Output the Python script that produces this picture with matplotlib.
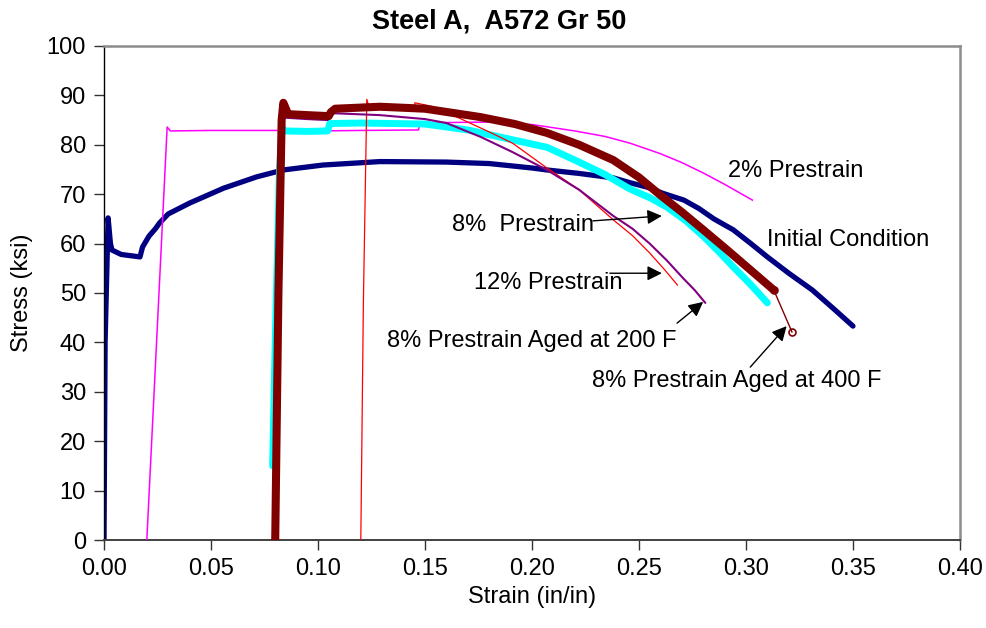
import matplotlib
matplotlib.use("Agg")
import matplotlib.pyplot as plt
import numpy as np

plt.rcParams['font.family'] = ['Liberation Sans', 'DejaVu Sans']

# stress-strain traces, strain in in/in, stress in ksi
init_x = [0.0, 0.0005, 0.0019, 0.0030, 0.0037, 0.008, 0.0168, 0.018, 0.021, 0.024, 0.026,
          0.030, 0.040, 0.0558, 0.0713, 0.0837, 0.1023, 0.129, 0.16, 0.18, 0.20, 0.207,
          0.222, 0.238, 0.246, 0.254, 0.261, 0.271, 0.278, 0.285, 0.294, 0.302, 0.310,
          0.320, 0.331, 0.341, 0.350]
init_y = [0, 40, 65.2, 60, 58.7, 57.8, 57.3, 59.3, 61.5, 63, 64.2,
          66, 68.2, 71.2, 73.5, 74.9, 75.9, 76.6, 76.5, 76.2, 75.3, 74.9,
          74.2, 73.3, 72.3, 71.4, 70.2, 68.8, 67.1, 65.0, 62.8, 60.1, 57.3,
          54.0, 50.6, 46.8, 43.3]

pre2_x = [0.020, 0.0295, 0.0310, 0.05, 0.08, 0.10, 0.12, 0.147, 0.1475, 0.16, 0.18,
          0.20, 0.22, 0.234, 0.246, 0.26, 0.27, 0.28, 0.29, 0.303]
pre2_y = [0, 83.6, 82.8, 82.9, 82.9, 82.8, 82.9, 83.0, 84.4, 84.5, 84.6,
          84.1, 82.8, 81.7, 80.3, 78.2, 76.4, 74.3, 72.0, 68.8]

pre8_x = [0.0788, 0.0800, 0.0820, 0.0832, 0.0845, 0.095, 0.1045, 0.1055, 0.12, 0.15,
          0.17, 0.191, 0.207, 0.222, 0.234, 0.246, 0.255, 0.263, 0.272, 0.280, 0.287,
          0.294, 0.302, 0.310]
pre8_y = [15, 40, 75, 83.5, 82.8, 82.7, 82.8, 84.3, 84.4, 84.2,
          83.0, 81.0, 79.5, 76.5, 74.0, 71.0, 69.3, 67.4, 64.6, 61.5, 58.5,
          55.3, 51.8, 48.0]

pre12_x = [0.1200, 0.1212, 0.1228, 0.1236, 0.130, 0.140, 0.1450, 0.1453, 0.154, 0.166,
           0.180, 0.191, 0.207, 0.222, 0.238, 0.247, 0.255, 0.262, 0.268]
pre12_y = [0, 48, 89.2, 88.0, 87.7, 87.6, 87.6, 88.5, 87.7, 85.4,
           82.6, 80.3, 75.3, 70.9, 64.8, 61.6, 58.1, 54.7, 51.6]

aged200_x = [0.0800, 0.0825, 0.0840, 0.0950, 0.1045, 0.1065, 0.129, 0.150, 0.160, 0.176,
             0.191, 0.207, 0.222, 0.238, 0.247, 0.255, 0.263, 0.2706, 0.276, 0.281]
aged200_y = [0, 80, 85.5, 85.2, 85.0, 86.4, 86.0, 85.2, 84.4, 81.6,
             78.5, 74.9, 70.9, 65.6, 63.0, 60.0, 56.6, 53.0, 50.6, 48.0]

aged400_x = [0.0800, 0.0815, 0.0830, 0.0838, 0.0848, 0.0860, 0.095, 0.1050, 0.1060, 0.1080,
             0.129, 0.150, 0.176, 0.192, 0.207, 0.222, 0.238, 0.250, 0.260, 0.270, 0.280,
             0.291, 0.302, 0.313, 0.3215]
aged400_y = [0, 50, 85, 88.5, 87.5, 86.2, 86.0, 85.8, 86.6, 87.3,
             87.7, 87.3, 85.6, 84.2, 82.4, 80.0, 76.9, 73.4, 69.8, 66.4, 62.8,
             58.8, 54.7, 50.6, 42.1]

fig = plt.figure(figsize=(9.87, 6.28), dpi=100)
ax = fig.add_axes([0.1054, 0.1401, 0.8672, 0.7867])

rnd = dict(solid_capstyle='round', solid_joinstyle='round')
ax.plot(init_x, init_y, color='#000080', lw=3.8, zorder=2, **rnd)
ax.plot(pre2_x, pre2_y, color='#ff00ff', lw=1.1, zorder=3)
ax.plot(pre8_x, pre8_y, color='#00ffff', lw=5.0, zorder=4, **rnd)
ax.plot(pre12_x, pre12_y, color='#ff0000', lw=0.9, zorder=5)
ax.plot(aged200_x, aged200_y, color='#800080', lw=1.5, zorder=6, **rnd)
# 400 F trace: heavy body, thin tail to the last reading
ax.plot(aged400_x[:-1], aged400_y[:-1], color='#800000', lw=5.8, zorder=7, **rnd)
ax.plot(aged400_x[-2:], aged400_y[-2:], color='#800000', lw=1.0, marker='o', ms=5,
        mfc='none', mec='#800000', mew=1.2, zorder=8)

lbl = dict(fontsize=17, ha='left', va='center')
ax.text(0.2916, 74.7, "2% Prestrain", **lbl)
ax.text(0.3098, 60.7, "Initial Condition", **lbl)
ax.text(0.1626, 63.8, "8%  Prestrain", **lbl)
ax.text(0.1729, 52.0, "12% Prestrain", **lbl)
ax.text(0.1322, 40.3, "8% Prestrain Aged at 200 F", **lbl)
ax.text(0.2280, 32.2, "8% Prestrain Aged at 400 F", **lbl)

arw = dict(arrowstyle='-|>', color='black', lw=1.0, mutation_scale=22, shrinkA=0, shrinkB=0)
ax.annotate("", xy=(0.2607, 65.6), xytext=(0.2285, 64.6), arrowprops=arw, zorder=9)
ax.annotate("", xy=(0.2607, 54.0), xytext=(0.2364, 54.0), arrowprops=arw, zorder=9)
ax.annotate("", xy=(0.2800, 48.2), xytext=(0.2678, 43.9), arrowprops=arw, zorder=9)
ax.annotate("", xy=(0.3190, 43.3), xytext=(0.3020, 35.0), arrowprops=arw, zorder=9)

ax.set_xlim(0, 0.40)
ax.set_ylim(0, 100)
ax.set_xticks(np.arange(0, 0.401, 0.05))
ax.set_xticklabels(["%.2f" % v for v in np.arange(0, 0.401, 0.05)])
ax.set_yticks(np.arange(0, 101, 10))
ax.tick_params(axis='both', direction='out', length=7, width=1, color='#333333',
               labelsize=17, pad=6)

for s in ['top', 'right']:
    ax.spines[s].set_color('#8c8c8c')
    ax.spines[s].set_linewidth(1.8)
ax.spines['left'].set_color('black')
ax.spines['bottom'].set_color('#404040')
ax.spines['left'].set_linewidth(1.0)
ax.spines['bottom'].set_linewidth(1.4)

ax.set_xlabel("Strain (in/in)", fontsize=17, labelpad=4)
ax.set_ylabel("Stress (ksi)", fontsize=17, labelpad=10)
fig.text(0.506, 0.966, "Steel A,  A572 Gr 50", fontsize=19.5, fontweight='bold',
         ha='center', va='center')

fig.savefig("out.png", dpi=100)
